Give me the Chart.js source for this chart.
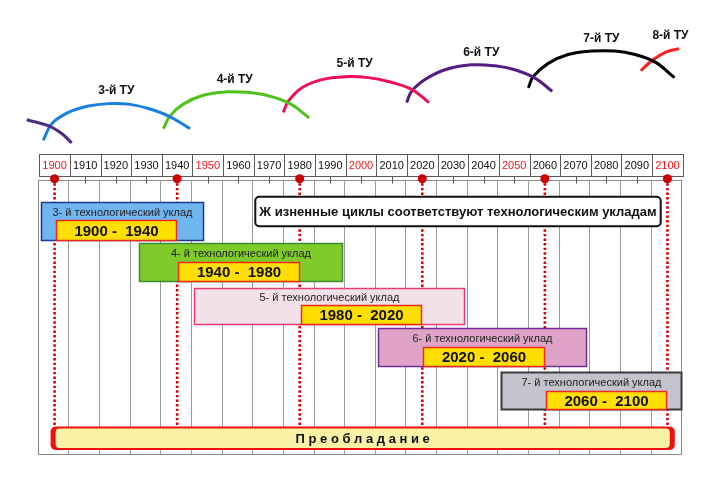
<!DOCTYPE html>
<html>
<head>
<meta charset="utf-8">
<title>Технологические уклады</title>
<script src="https://cdn.jsdelivr.net/npm/chart.js"></script>
<style>
  html, body { margin: 0; padding: 0; background: #fff; }
  #wrap { width: 720px; height: 485px; position: relative; }
</style>
</head>
<body>

<div id="wrap"><canvas id="myChart"></canvas></div>

<script>
    // header row: decades
    const decades = [1900, 1910, 1920, 1930, 1940, 1950, 1960, 1970, 1980, 1990, 2000,
                     2010, 2020, 2030, 2040, 2050, 2060, 2070, 2080, 2090, 2100];
    const redDecades = [1900, 1950, 2000, 2050, 2100];
    // borders between the structures (red dots + dotted lines)
    const markerYears = [1900, 1940, 1980, 2020, 2060, 2100];

    // the five structures
    const boxNames = ['3- й технологический уклад', '4- й технологический уклад', '5- й технологический уклад',
                      '6- й технологический уклад', '7- й технологический уклад'];
    const periodFrom = [1900, 1940, 1980, 2020, 2060];
    const periodTo = [1940, 1980, 2020, 2060, 2100];
    const spanFrom = [1895.7, 1927.4, 1945.6, 2005.5, 2045.7];
    const spanTo = [1948.3, 1993.7, 2033.5, 2073.4, 2104.5];

    const noteText = 'Ж изненные циклы соответствуют технологическим укладам';
    const bannerText = 'П р е о б л а д а н и е';

    // waves: [year, level] (level grows downwards)
    const waveNames = ['', '3-й ТУ', '4-й ТУ', '5-й ТУ', '6-й ТУ', '7-й ТУ', '8-й ТУ'];
    const wave2 = [[1890.9, 23.5], [1897.9, 24.7], [1902.3, 26.3], [1905.6, 28.2]];
    const wave3 = [[1896.3, 27.7], [1899.1, 24.3], [1904.5, 22.0], [1911.0, 20.7], [1917.5, 20.2],
                   [1924.1, 20.3], [1930.6, 21.2], [1937.1, 22.7], [1944.2, 25.3]];
    const wave4 = [[1935.5, 25.3], [1937.7, 22.7], [1942.0, 20.3], [1948.5, 18.5], [1956.2, 17.8],
                   [1962.7, 17.9], [1969.2, 18.5], [1976.8, 20.2], [1983.1, 23.1]];
    const wave5 = [[1974.6, 22.0], [1976.3, 19.7], [1980.6, 17.0], [1987.2, 15.3], [1994.8, 14.7],
                   [2002.4, 14.9], [2008.9, 15.7], [2016.5, 17.3], [2022.2, 20.0]];
    const wave6 = [[2014.9, 20.0], [2016.5, 17.7], [2020.9, 15.3], [2027.4, 13.3], [2036.1, 12.3],
                   [2043.7, 12.5], [2050.2, 13.3], [2056.8, 15.0], [2062.4, 17.7]];
    const wave7 = [[2054.6, 17.0], [2056.2, 14.7], [2061.1, 12.0], [2067.6, 10.2], [2075.3, 9.5],
                   [2082.9, 9.5], [2089.4, 10.2], [2095.9, 11.7], [2102.3, 14.9]];
    const wave8 = [[2091.3, 13.5], [2095.2, 11.3], [2099.5, 9.7], [2103.8, 9.0]];

    const waves = [wave2, wave3, wave4, wave5, wave6, wave7, wave8];
    const waveColors = ['#4a2c82', '#1a7fe3', '#4fc21c', '#ee0f55', '#561c84', '#000000', '#ff1e1e'];

    const boxFill = ['#70b4f0', '#7fcb2a', '#f2e1e8', '#dea3c6', '#c3c3cb'];
    const boxLine = ['#1c3a8c', '#3c8c34', '#ec3c78', '#6c2c9c', '#3c3c3c'];

    // vertical layout in level units (5 px each)
    const layout = {
        headTop: 30.5, headBottom: 34.9, headText: 32.8,
        bodyTop: 35.7, bodyBottom: 91.7, tickEnd: 36.5,
        dot: 35.5, dotEnd: 86,
        rows: [[40.2, 44.0, 47.9], [48.7, 52.5, 56.3], [57.7, 61.3, 65.2], [66.0, 69.7, 73.7], [74.9, 78.7, 82.5]],
        note: [1965.5, 2097.8, 39.2, 45.2],
        banner: [1898.7, 2102.4, 86.0, 90.8]
    };

    function rrect(ctx, x, y, w, h, r) {
        ctx.beginPath();
        ctx.moveTo(x + r, y);
        ctx.arcTo(x + w, y, x + w, y + h, r);
        ctx.arcTo(x + w, y + h, x, y + h, r);
        ctx.arcTo(x, y + h, x, y, r);
        ctx.arcTo(x, y, x + w, y, r);
        ctx.closePath();
    }

    const diagram = {
        id: 'diagram',
        beforeDatasetsDraw(chart) {
            const ctx = chart.ctx, X = chart.scales.x, Y = chart.scales.y;
            const px = v => X.getPixelForValue(v), py = v => Y.getPixelForValue(v);
            ctx.save();
            // body grid
            ctx.lineWidth = 1;
            ctx.strokeStyle = '#9a9a9a';
            const b0 = Math.round(py(layout.bodyTop)) + 0.5, b1 = Math.round(py(layout.bodyBottom)) + 0.5;
            for (let k = 1; k < decades.length; k++) {
                const x = Math.round(px(decades[k] - 5.5)) + 0.5;
                ctx.beginPath(); ctx.moveTo(x, b0); ctx.lineTo(x, b1); ctx.stroke();
            }
            ctx.strokeStyle = '#8a8a8a';
            const l = Math.round(px(decades[0] - 5.5)) + 0.5, r = Math.round(px(decades[decades.length - 1] + 4.5)) + 0.5;
            ctx.strokeRect(l, b0, r - l, b1 - b0);
            // header cells
            const h0 = Math.round(py(layout.headTop)) + 0.5, h1 = Math.round(py(layout.headBottom)) + 0.5;
            ctx.font = '11px Arial, "Liberation Sans", sans-serif';
            ctx.textAlign = 'center';
            ctx.textBaseline = 'middle';
            decades.forEach(d => {
                const x0 = Math.round(px(d - 5)) + 0.5, x1 = Math.round(px(d + 5)) + 0.5;
                ctx.fillStyle = '#fff';
                ctx.fillRect(x0, h0, x1 - x0, h1 - h0);
                ctx.strokeStyle = '#5a5a5a';
                ctx.strokeRect(x0, h0, x1 - x0, h1 - h0);
                const xc = Math.round(px(d)) + 0.5;
                ctx.beginPath(); ctx.moveTo(xc, h1); ctx.lineTo(xc, py(layout.tickEnd)); ctx.stroke();
                ctx.fillStyle = redDecades.includes(d) ? '#f01818' : '#111';
                ctx.fillText(String(d), px(d), py(layout.headText) + 1);
            });
            ctx.restore();
        },
        afterDatasetsDraw(chart) {
            const ctx = chart.ctx, X = chart.scales.x, Y = chart.scales.y;
            const px = v => X.getPixelForValue(v), py = v => Y.getPixelForValue(v);
            ctx.save();
            ctx.textAlign = 'center';
            ctx.textBaseline = 'middle';

            // wave names above each crest
            ctx.font = 'bold 12px Arial, "Liberation Sans", sans-serif';
            ctx.fillStyle = '#111';
            waves.forEach((w, i) => {
                if (!waveNames[i]) return;
                const top = w.slice().sort((a, b) => a[1] - b[1]).slice(0, 2);
                const xm = (px(top[0][0]) + px(top[1][0])) / 2 - 2;
                ctx.fillText(waveNames[i], xm, py(top[0][1]) - 12.5);
            });

            // note
            const n = layout.note;
            ctx.fillStyle = '#fff';
            ctx.strokeStyle = '#111';
            ctx.lineWidth = 2;
            rrect(ctx, px(n[0]), py(n[2]), px(n[1]) - px(n[0]), py(n[3]) - py(n[2]), 4);
            ctx.fill(); ctx.stroke();
            ctx.fillStyle = '#111';
            ctx.font = 'bold 13px Arial, "Liberation Sans", sans-serif';
            ctx.fillText(noteText, (px(n[0]) + px(n[1])) / 2, (py(n[2]) + py(n[3])) / 2 + 1);

            // structure boxes
            boxNames.forEach((name, i) => {
                const row = layout.rows[i];
                const x0 = Math.round(px(spanFrom[i])) + 0.5, x1 = Math.round(px(spanTo[i])) + 0.5;
                const y0 = Math.round(py(row[0])) + 0.5, ym = Math.round(py(row[1])) + 0.5, y1 = Math.round(py(row[2])) + 0.5;
                ctx.fillStyle = boxFill[i];
                ctx.fillRect(x0, y0, x1 - x0, y1 - y0);
                ctx.strokeStyle = boxLine[i];
                ctx.lineWidth = i === 4 ? 2 : 1.5;
                ctx.strokeRect(x0, y0, x1 - x0, y1 - y0);
                ctx.fillStyle = '#222';
                ctx.font = '11px Arial, "Liberation Sans", sans-serif';
                ctx.fillText(name, (x0 + x1) / 2, (y0 + ym) / 2 + 1);
                // period
                const a = Math.round(px(periodFrom[i])) + 1.5, c = Math.round(px(periodTo[i])) - 0.5;
                ctx.fillStyle = '#ffdf00';
                ctx.fillRect(a, ym, c - a, y1 - ym);
                ctx.strokeStyle = '#ee2a1a';
                ctx.lineWidth = 1.5;
                ctx.strokeRect(a, ym, c - a, y1 - ym);
                ctx.fillStyle = '#111';
                ctx.font = 'bold 15px Arial, "Liberation Sans", sans-serif';
                ctx.fillText(periodFrom[i] + ' -  ' + periodTo[i], (a + c) / 2, (ym + y1) / 2 + 1);
            });

            // banner
            const bn = layout.banner;
            const bx0 = px(bn[0]), bx1 = px(bn[1]), by0 = py(bn[2]), by1 = py(bn[3]);
            ctx.fillStyle = '#ee1010';
            rrect(ctx, bx0, by0, bx1 - bx0, by1 - by0, 5);
            ctx.fill();
            ctx.fillStyle = '#f7f2a6';
            rrect(ctx, bx0 + 5, by0 + 2, bx1 - bx0 - 10, by1 - by0 - 4, 4);
            ctx.fill();
            ctx.fillStyle = '#111';
            ctx.font = 'bold 13px Arial, "Liberation Sans", sans-serif';
            ctx.fillText(bannerText, (bx0 + bx1) / 2, (by0 + by1) / 2 + 1);
            ctx.restore();
        }
    };

    const datasets = [];
    waves.forEach((w, i) => {
        datasets.push({
            data: w.map(p => ({ x: p[0], y: p[1] })),
            showLine: true, tension: 0.4, pointRadius: 0,
            borderColor: waveColors[i], borderWidth: 3, fill: false, order: 3
        });
    });
    markerYears.forEach(yr => {
        datasets.push({
            data: [{ x: yr, y: layout.dot }, { x: yr, y: layout.dotEnd }],
            showLine: true, pointRadius: 0, borderColor: '#d80000',
            borderWidth: 2.6, borderDash: [2.4, 2.2], fill: false, order: 2
        });
    });
    datasets.push({
        data: markerYears.map(yr => ({ x: yr, y: layout.dot })),
        showLine: false, pointRadius: 4.5, pointBackgroundColor: '#cc0000',
        pointBorderWidth: 0, order: 1
    });

    new Chart('myChart', {
        type: 'scatter',
        data: { datasets: datasets },
        options: {
            responsive: true,
            maintainAspectRatio: false,
            animation: false,
            events: [],
            layout: { padding: { left: 8.6, right: 6.6, top: 0, bottom: 0 } },
            plugins: { legend: { display: false }, tooltip: { enabled: false } },
            scales: {
                x: { type: 'linear', min: 1885, max: 2115, display: false },
                y: { type: 'linear', min: 0, max: 97, reverse: true, display: false }
            }
        },
        plugins: [diagram]
    });
</script>

</body>
</html>
